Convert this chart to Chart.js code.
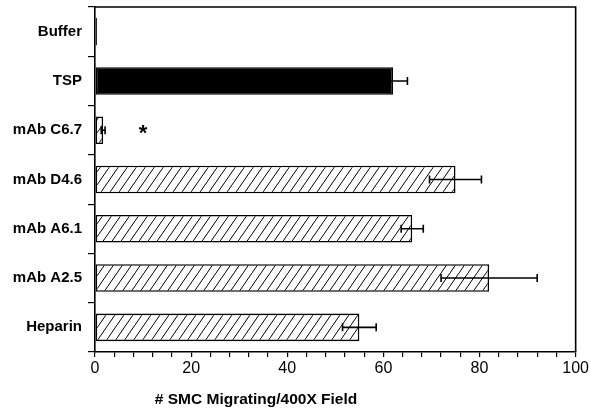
<!DOCTYPE html>
<html>
<head>
<meta charset="utf-8">
<script src="https://cdn.jsdelivr.net/npm/chart.js@4"></script>
<style>
  html, body { margin: 0; padding: 0; background: #fff; }
  #wrap { width: 591px; height: 414px; }
</style>
</head>
<body>
<div id="wrap"><canvas id="myChart" width="591" height="414"></canvas></div>
<script>
// data
const categories = ['Buffer', 'TSP', 'mAb C6.7', 'mAb D4.6', 'mAb A6.1', 'mAb A2.5', 'Heparin'];
const values = [0.4, 62, 1.7, 75, 66, 82, 55];
const errors = [0, 3, 0.4, 5.4, 2.3, 10, 3.5];
const fillStyles = ['solid', 'solid', 'hatch', 'hatch', 'hatch', 'hatch', 'hatch'];
const marks = ['', '', '*', '', '', '', ''];
const markAt = 10;
const xTitle = '# SMC Migrating/400X Field';

// diagonal hatch pattern
function makeHatch() {
    const w = 9, h = 13;
    const c = document.createElement('canvas');
    c.width = w; c.height = h;
    const g = c.getContext('2d');
    g.fillStyle = '#fff';
    g.fillRect(0, 0, w, h);
    g.strokeStyle = '#000';
    g.lineWidth = 1;
    g.beginPath();
    g.moveTo(0, h); g.lineTo(w, 0);
    g.moveTo(-w, h); g.lineTo(0, 0);
    g.moveTo(w, 2 * h); g.lineTo(2 * w, 0);
    g.moveTo(0, 2 * h); g.lineTo(w, h);
    g.moveTo(0, 0); g.lineTo(w, -h);
    g.stroke();
    return document.getElementById('myChart').getContext('2d').createPattern(c, 'repeat');
}
const hatch = makeHatch();

const extras = {
    id: 'extras',
    afterDatasetsDraw(chart) {
        const ctx = chart.ctx;
        const xs = chart.scales.x, ys = chart.scales.y;
        const a = chart.chartArea;
        ctx.save();
        ctx.strokeStyle = '#000';
        ctx.lineWidth = 1.6;
        // error bars
        values.forEach((v, i) => {
            if (!errors[i]) return;
            const y = ys.getPixelForValue(i);
            const x1 = xs.getPixelForValue(v - errors[i]);
            const x2 = xs.getPixelForValue(v + errors[i]);
            ctx.beginPath();
            ctx.moveTo(x1, y); ctx.lineTo(x2, y);
            ctx.moveTo(x1, y - 4); ctx.lineTo(x1, y + 4);
            ctx.moveTo(x2, y - 4); ctx.lineTo(x2, y + 4);
            ctx.stroke();
        });
        // frame top/right
        ctx.beginPath();
        ctx.moveTo(a.left, a.top); ctx.lineTo(a.right, a.top);
        ctx.lineTo(a.right, a.bottom);
        ctx.stroke();
        // significance marks
        ctx.fillStyle = '#000';
        ctx.font = 'bold 22px "Liberation Sans", Arial, sans-serif';
        ctx.textAlign = 'center';
        ctx.textBaseline = 'middle';
        marks.forEach((m, i) => {
            if (m) ctx.fillText(m, xs.getPixelForValue(markAt), ys.getPixelForValue(i) + 4);
        });
        // axis title
        ctx.font = 'bold 15.5px "Liberation Sans", Arial, sans-serif';
        ctx.fillText(xTitle, a.left + 161, a.bottom + 48);
        ctx.restore();
    }
};

const ctx = document.getElementById('myChart').getContext('2d');
const myChart = new Chart(ctx, {
    type: 'bar',
    data: {
        labels: categories,
        datasets: [{
            data: values,
            backgroundColor: fillStyles.map(f => f === 'solid' ? '#000' : hatch),
            borderColor: '#000',
            borderWidth: 1.6,
            borderSkipped: false,
            barPercentage: 0.56,
            categoryPercentage: 1
        }]
    },
    options: {
        indexAxis: 'y',
        responsive: false,
        animation: false,
        layout: { padding: { top: 7, right: 14, left: 0, bottom: 0 } },
        plugins: { legend: { display: false }, tooltip: { enabled: false } },
        scales: {
            x: {
                min: 0, max: 100,
                ticks: {
                    stepSize: 4,
                    autoSkip: false,
                    maxRotation: 0,
                    color: '#000',
                    padding: 2,
                    font: { family: '"Liberation Sans", Arial, sans-serif', size: 16 },
                    callback: v => v % 20 === 0 ? v : ''
                },
                grid: { drawOnChartArea: false, color: '#000', lineWidth: 1.2, tickLength: 5 },
                border: { color: '#000', width: 1.6 },
                afterFit: s => { s.height = 62; }
            },
            y: {
                ticks: {
                    color: '#000',
                    padding: 6,
                    font: { family: '"Liberation Sans", Arial, sans-serif', size: 15, weight: 'bold' }
                },
                grid: { drawOnChartArea: false, color: '#000', lineWidth: 1.2, tickLength: 7, offset: true },
                border: { color: '#000', width: 1.6 },
                afterFit: s => { s.width = 95; s.paddingTop = 0; s.paddingBottom = 0; }
            }
        }
    },
    plugins: [extras]
});
</script>
</body>
</html>
